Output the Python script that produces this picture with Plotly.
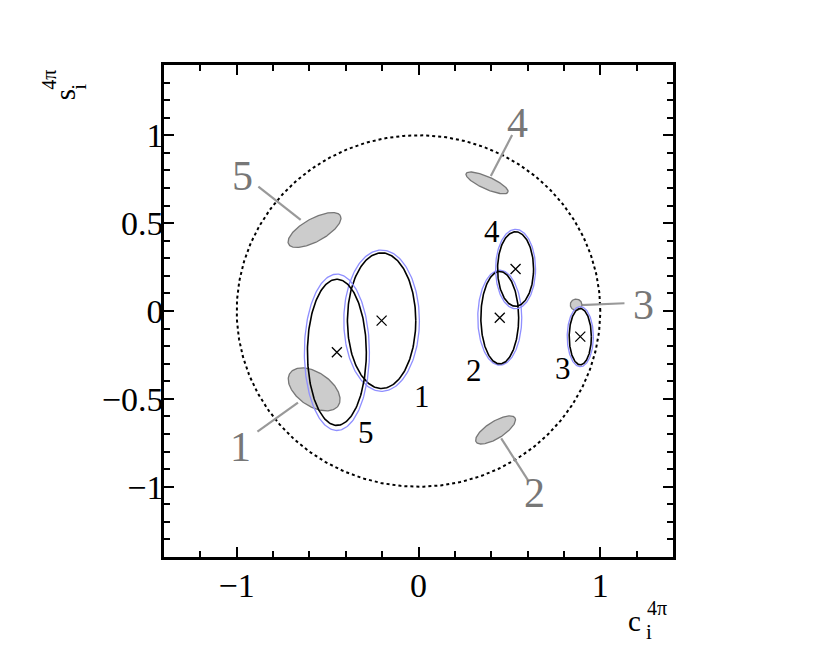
import numpy as np
import plotly.graph_objects as go

# measured bins (black ellipse + blue outer ellipse, x = central value)
bins = ["1", "2", "3", "4", "5"]
c_meas = [-0.203, 0.447, 0.890, 0.534, -0.449]
s_meas = [-0.055, -0.038, -0.146, 0.239, -0.235]
sig_c = [0.188, 0.104, 0.061, 0.099, 0.162]
sig_s = [0.386, 0.263, 0.160, 0.212, 0.416]
sig_c_outer = [0.208, 0.121, 0.072, 0.110, 0.179]
sig_s_outer = [0.402, 0.270, 0.171, 0.226, 0.445]
lab_c = [0.019, 0.303, 0.795, 0.403, -0.290]
lab_s = [-0.488, -0.340, -0.326, 0.452, -0.692]

# model predictions (grey filled ellipses)
c_model = [-0.574, 0.424, 0.867, 0.377, -0.572]
s_model = [-0.446, -0.677, 0.036, 0.729, 0.461]
a_model = [0.162, 0.127, 0.032, 0.127, 0.164]
b_model = [0.095, 0.048, 0.032, 0.035, 0.065]
ang_model = [-36, 33, 0, -25, 30]
# leader lines: start (near label) -> end (near ellipse), label pos
lead_x0 = [-0.886, 0.602, 1.133, 0.515, -0.881]
lead_y0 = [-0.687, -0.962, 0.044, 1.002, 0.708]
lead_x1 = [-0.663, 0.455, 0.890, 0.398, -0.648]
lead_y1 = [-0.522, -0.725, 0.034, 0.768, 0.518]
glab_c = [-0.981, 0.638, 1.237, 0.545, -0.966]
glab_s = [-0.772, -1.038, 0.034, 1.068, 0.766]

SERIF = "Liberation Serif, Times New Roman, serif"


def ellipse(xc, yc, a, b, ang=0.0, n=200):
    t = np.linspace(0, 2 * np.pi, n)
    th = np.deg2rad(ang)
    x = xc + a * np.cos(t) * np.cos(th) - b * np.sin(t) * np.sin(th)
    y = yc + a * np.cos(t) * np.sin(th) + b * np.sin(t) * np.cos(th)
    return x, y


fig = go.Figure()

# unit circle
cx, cy = ellipse(0, 0, 1, 1, n=400)
fig.add_trace(go.Scatter(x=cx, y=cy, mode="lines",
                         line=dict(color="black", width=2, dash="dot"),
                         hoverinfo="skip"))

# model ellipses + leader lines
for i in range(len(bins)):
    fig.add_trace(go.Scatter(x=[lead_x0[i], lead_x1[i]], y=[lead_y0[i], lead_y1[i]],
                             mode="lines", line=dict(color="#999999", width=2.2)))
    ex, ey = ellipse(c_model[i], s_model[i], a_model[i], b_model[i], ang_model[i])
    fig.add_trace(go.Scatter(x=ex, y=ey, mode="lines", fill="toself",
                             fillcolor="#cccccc", line=dict(color="#777777", width=1.3)))
    fig.add_annotation(x=glab_c[i], y=glab_s[i], text=bins[i], showarrow=False,
                       font=dict(family=SERIF, size=42, color="#777777"))

# measurement ellipses
for i in range(len(bins)):
    ex, ey = ellipse(c_meas[i], s_meas[i], sig_c_outer[i], sig_s_outer[i])
    fig.add_trace(go.Scatter(x=ex, y=ey, mode="lines",
                             line=dict(color="#8f8fff", width=1.3)))
    ex, ey = ellipse(c_meas[i], s_meas[i], sig_c[i], sig_s[i])
    fig.add_trace(go.Scatter(x=ex, y=ey, mode="lines",
                             line=dict(color="black", width=1.6)))
    fig.add_annotation(x=lab_c[i], y=lab_s[i], text=bins[i], showarrow=False,
                       font=dict(family=SERIF, size=31, color="black"))

fig.add_trace(go.Scatter(x=c_meas, y=s_meas, mode="markers",
                         marker=dict(symbol="x-thin", size=10, color="black",
                                     line=dict(width=1.3, color="black"))))

ax = dict(showgrid=False, zeroline=False, showline=True, linecolor="black",
          linewidth=2.5, mirror="ticks", ticks="inside", tickwidth=2,
          ticklen=10, tickcolor="black", range=[-1.4, 1.4],
          tickfont=dict(family=SERIF, size=34, color="black"))
fig.update_xaxes(**ax, dtick=1, tick0=0, ticklabelstandoff=-4,
                 minor=dict(ticks="inside", dtick=0.2, tick0=0, ticklen=6,
                            tickwidth=2, tickcolor="black"))
fig.update_yaxes(**ax, dtick=0.5, tick0=0, ticklabelstandoff=-9,
                 minor=dict(ticks="inside", dtick=0.1, tick0=0, ticklen=6,
                            tickwidth=2, tickcolor="black"))

# axis titles built from pieces so sub/superscripts stack
titles = [
    ("c", 0.925, -0.130, 29, 0), ("4π", 0.969, -0.104, 20, 0), ("i", 0.953, -0.152, 21, 0),
    ("s", -0.194, 0.939, 29, -90), ("4π", -0.226, 0.970, 20, -90), ("i", -0.167, 0.956, 21, -90),
]
for txt, px, py, fs, ang in titles:
    fig.add_annotation(xref="paper", yref="paper", x=px, y=py, text=txt,
                       xanchor="center", yanchor="middle",
                       showarrow=False, textangle=ang,
                       font=dict(family=SERIF, size=fs, color="black"))

fig.update_layout(width=822, height=647, showlegend=False,
                  plot_bgcolor="white", paper_bgcolor="white",
                  margin=dict(l=156, r=157, t=57, b=98))

fig.write_html("out.html")
